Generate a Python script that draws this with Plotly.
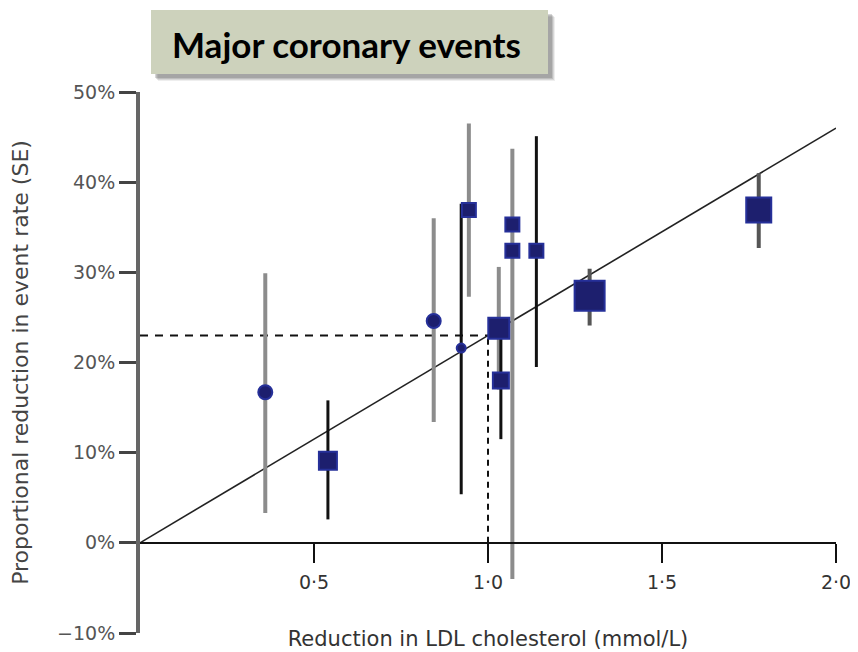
import plotly.graph_objects as go

# ---------------- data ----------------
ldl_reduction = [0.360, 0.540, 0.844, 0.923, 0.945, 1.031, 1.037, 1.070, 1.070, 1.139, 1.292, 1.778]
event_reduction = [16.7, 9.1, 24.6, 21.6, 36.9, 23.8, 18.0, 35.3, 32.4, 32.4, 27.4, 36.9]
ci_low = [3.3, 2.6, 13.4, 5.4, 27.3, 17.0, 11.5, None, -4.0, 19.5, 24.1, 32.7]
ci_high = [29.9, 15.8, 36.0, 37.6, 46.5, 30.6, 24.3, None, 43.7, 45.1, 30.4, 41.0]
trial_type = ["circle", "square", "circle", "circle", "square", "square",
              "square", "square", "square", "square", "square", "square"]
slope_per_mmol = 23.0          # % reduction per 1 mmol/L
fit_x = [0.0, 2.0]
ref_ldl = 1.0
x_tick_vals = [0.5, 1.0, 1.5, 2.0]
x_tick_text = ["0·5", "1·0", "1·5", "2·0"]
y_tick_vals = [-10, 0, 10, 20, 30, 40, 50]
y_tick_text = ["−10%", "0%", "10%", "20%", "30%", "40%", "50%"]
title_text = "Major coronary events"
x_title = "Reduction in LDL cholesterol (mmol/L)"
y_title = "Proportional reduction in event rate (SE)"

# ---------------- styles ----------------
marker_px = [14, 18, 14, 9, 14, 21, 16, 14, 14, 14, 30, 25]
bar_colors = ["#8c8c8c", "#111111", "#8c8c8c", "#111111", "#8c8c8c", "#8c8c8c",
              "#111111", "#111111", "#8c8c8c", "#111111", "#555555", "#555555"]
bar_widths = [4, 3, 4, 3, 4, 4, 3, 3, 4, 3, 4, 4]

OFF = 8  # page body margin
W, H = 858 - OFF, 652 - OFF
L, T = 140 - OFF, 92 - OFF
R = W - (836 - OFF)
B = H - (633 - OFF)
pw, ph = W - L - R, H - T - B

fig = go.Figure()

ref_y = slope_per_mmol * ref_ldl
# dashed reference lines
fig.add_trace(go.Scatter(x=[0, ref_ldl], y=[ref_y, ref_y], mode="lines",
                         line=dict(color="#111111", width=2, dash="8px,7px"),
                         hoverinfo="skip", showlegend=False))
fig.add_trace(go.Scatter(x=[ref_ldl, ref_ldl], y=[0, ref_y], mode="lines",
                         line=dict(color="#111111", width=2, dash="6px,5px"),
                         hoverinfo="skip", showlegend=False))
# regression line
fig.add_trace(go.Scatter(x=fit_x, y=[slope_per_mmol * v for v in fit_x], mode="lines",
                         line=dict(color="#222222", width=1.6),
                         hoverinfo="skip", showlegend=False))

# error bars
for xi, lo, hi, c, w in zip(ldl_reduction, ci_low, ci_high, bar_colors, bar_widths):
    if lo is None:
        continue
    fig.add_trace(go.Scatter(x=[xi, xi], y=[lo, hi], mode="lines",
                             line=dict(color=c, width=w),
                             hoverinfo="skip", showlegend=False))

# markers
fig.add_trace(go.Scatter(x=ldl_reduction, y=event_reduction, mode="markers",
                         marker=dict(symbol=trial_type, size=marker_px, opacity=1,
                                     color="#1d1f6e",
                                     line=dict(color="#263099", width=2)),
                         showlegend=False))


# title box with soft shadow (page pixel positions converted to paper coords)
def px_to_paper(px, py):
    return (px - OFF - L) / pw, (H - B - (py - OFF)) / ph


bx0, by1 = px_to_paper(151, 10)
bx1, by0 = px_to_paper(548, 74)
for off, op in [(7, 0.10), (6, 0.15), (5, 0.2), (4, 0.25)]:
    sx0, sy1 = px_to_paper(151 + off, 10 + off)
    sx1, sy0 = px_to_paper(548 + off, 74 + off)
    fig.add_shape(type="rect", xref="paper", yref="paper",
                  x0=sx0, x1=sx1, y0=sy0, y1=sy1,
                  fillcolor=f"rgba(90,90,90,{op})", line=dict(width=0), layer="above")
fig.add_shape(type="rect", xref="paper", yref="paper",
              x0=bx0, x1=bx1, y0=by0, y1=by1,
              fillcolor="#cdd2bc", line=dict(width=0), layer="above")
tx, ty = px_to_paper(346, 44)
fig.add_annotation(xref="paper", yref="paper", x=tx, y=ty, text=title_text,
                   showarrow=False, xanchor="center", yanchor="middle",
                   font=dict(family="Lato", size=35, color="#000000", weight="bold"))

fig.update_layout(
    width=W, height=H,
    margin=dict(l=L, r=R, t=T, b=B, autoexpand=False),
    paper_bgcolor="white", plot_bgcolor="white",
    font=dict(family="DejaVu Sans", color="#444444"),
    xaxis=dict(range=[0, 2.0], anchor="free", position=10 / 60,
               showgrid=False, zeroline=False,
               showline=True, linecolor="#111111", linewidth=2,
               ticks="outside", ticklen=19, tickwidth=2, tickcolor="#111111",
               tickvals=x_tick_vals, ticktext=x_tick_text,
               ticklabelstandoff=3,
               tickfont=dict(size=19, color="#333333"),
               title=dict(text=x_title, standoff=39,
                          font=dict(size=21, color="#333333"))),
    yaxis=dict(range=[-10, 50], showgrid=False, zeroline=False,
               showline=True, linecolor="#666666", linewidth=4,
               ticks="outside", ticklen=17, tickwidth=3, tickcolor="#444444",
               tickvals=y_tick_vals, ticktext=y_tick_text,
               tickfont=dict(size=19, color="#555555"),
               title=dict(text=y_title, standoff=24,
                          font=dict(size=22, color="#444444"))),
)

fig.write_html("out.html")
